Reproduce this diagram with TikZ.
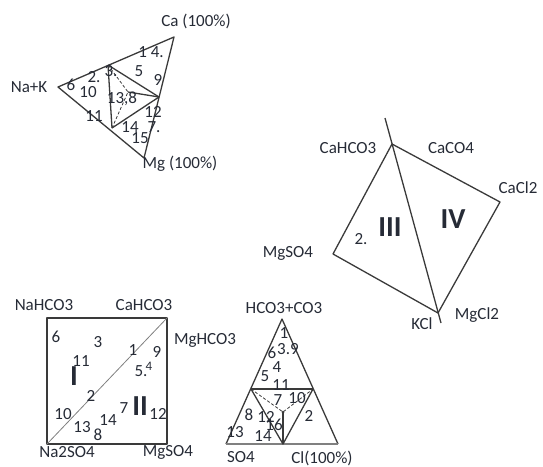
\documentclass[tikz,border=0pt]{standalone}
\usepackage{fontspec}
\setmainfont{Carlito}
\usetikzlibrary{positioning}
\definecolor{ink}{HTML}{262B36}
\definecolor{rule}{HTML}{3A3A3A}

\begin{document}
\begin{tikzpicture}[x=1pt, y=-1pt,
  every node/.style={font=\fontsize{17}{17}\selectfont, text=ink, inner sep=0pt},
  num/.style={font=\fontsize{17}{17}\selectfont},
  small/.style={font=\fontsize{13}{13}\selectfont},
  region/.style={font=\fontsize{29}{29}\selectfont\bfseries},
  edge/.style={draw=rule, line width=1.3pt, line join=round},
  thin/.style={draw=rule, line width=0.8pt, densely dashed},
  grey/.style={draw=gray, line width=1.1pt},
]
\useasboundingbox (0,0) rectangle (543,466);

% cation triangle
\coordinate (NaK) at (58,87);
\coordinate (Ca) at (174,37);
\coordinate (Mg) at (144,158);
\coordinate (tA) at (108,65);
\coordinate (tB) at (159,97);
\coordinate (tC) at (112,128);
\coordinate (tD) at (128,92);
\draw[edge] (NaK) -- (Ca) -- (Mg) -- cycle;
\draw[edge] (tA) -- (tB);
\draw[edge] (tA) -- (tC);
\draw[edge] (tC) -- (tB);
\draw[edge] (tD) -- (tB);
\draw[thin] (tA) -- (tD) -- (tC);

\node (lblCa) at (196,21) {Ca (100\%)};
\node (lblNaK) at (29,87) {Na+K};
\node (lblMg) at (180,164) {Mg (100\%)};
\node[num] (c14) at (151,52) {1 4.};
\node[num] (c5) at (139,71) {5};
\node[num] (c9) at (158,80) {9};
\node[num] (c2) at (94,77) {2.};
\node[num] (c3) at (111,71) {3.};
\node[num] (c6) at (71,85) {6};
\node[num] (c10) at (88,92) {10};
\node[num] (c138) at (122,99) {13,8};
\node[num] (c11) at (94,116) {11};
\node[num] (c12) at (153,112) {12};
\node[num] (c14b) at (130,127) {14};
\node[num] (c7) at (154,127) {7.};
\node[num] (c15) at (140,138) {15};

% salt diamond
\coordinate (dH) at (392,144);
\coordinate (dC) at (500,202);
\coordinate (dK) at (438,313);
\coordinate (dS) at (333,254);
\coordinate (dTop) at (385,118);
\coordinate (dBot) at (441,323);
\draw[edge] (dH) -- (dC) -- (dK) -- (dS) -- cycle;
\draw[edge] (dTop) -- (dBot);

\node (lblCaHCO) at (348,148) {CaHCO3};
\node (lblCaCO) at (451,148) {CaCO4};
\node (lblCaCl) at (518,188) {CaCl2};
\node (lblMgSO) at (288,253) {MgSO4};
\node (lblMgCl) at (477,315) {MgCl2};
\node (lblKCl) at (422,324) {KCl};
\node[region] (rIII) at (390,227) {III};
\node[region] (rIV) at (453,219) {IV};
\node[num] (d2) at (361,239) {2.};

% square
\coordinate (sTL) at (47,318);
\coordinate (sTR) at (167,318);
\coordinate (sBR) at (167,444);
\coordinate (sBL) at (47,444);
\draw[edge] (sTL) -- (sTR) -- (sBR) -- (sBL) -- cycle;
\draw[grey, line width=0.8pt] (sBL) -- (sTR);

\node (lblNaHCO) at (44,305) {NaHCO3};
\node (lblCaHCOs) at (144,305) {CaHCO3};
\node (lblMgHCO) at (205,340) {MgHCO3};
\node (lblNaSO) at (67,452) {Na2SO4};
\node (lblMgSOs) at (168,452) {MgSO4};
\node[region] (rI) at (74,376) {I};
\node[region] (rII) at (140,406) {II};
\node[num] (s6) at (56,337) {6};
\node[num] (s3) at (98,342) {3};
\node[num] (s11) at (81,361) {11};
\node[num] (s1) at (133,350) {1};
\node[num] (s9) at (157,352) {9};
\node[num] (s5) at (141,371) {5.};
\node[small] (s4) at (149,366) {4};
\node[num] (s2) at (91,396) {2};
\node[num] (s10) at (63,414) {10};
\node[num] (s7) at (124,408) {7};
\node[num] (s12) at (158,414) {12};
\node[num] (s14) at (108,420) {14};
\node[num] (s13) at (82,427) {13};
\node[num] (s8) at (98,435) {8};

% anion triangle
\coordinate (aT) at (282,319);
\coordinate (aL) at (226,444);
\coordinate (aR) at (338,444);
\coordinate (aML) at (251,389);
\coordinate (aMR) at (313,389);
\coordinate (aO) at (283,412);
\coordinate (aBM) at (283,444);
\draw[edge] (aL) -- (aT) -- (aR);
\draw[grey, line width=1.8pt] (aL) -- (aR);
\draw[edge] (aML) -- (aMR);
\draw[edge] (aML) -- (aBM) -- (aMR);
\draw[edge] (aO) -- (aBM);
\draw[thin] (aML) -- (aO) -- (aMR);
\fill[rule] (aO) circle (1.5pt);

\node (lblHCO) at (284,308) {HCO3+CO3};
\node (lblSO) at (241,457) {SO4};
\node (lblCl) at (322,458) {Cl(100\%)};
\node[num] (a1) at (284,333) {1};
\node[num] (a39) at (288,349) {3.9};
\node[num] (a6) at (272,353) {6};
\node[num] (a4) at (277,367) {4};
\node[num] (a5) at (265,376) {5};
\node[num] (a11) at (281,385) {11};
\node[num] (a7) at (278,400) {7};
\node[num] (a10) at (297,398) {10};
\node[num] (a2) at (309,416) {2};
\node[num] (a8) at (249,415) {8};
\node[num] (a12) at (266,417) {12};
\node[num] (a16) at (274,425) {16};
\node[num] (a13) at (235,432) {13};
\node[num] (a14) at (263,436) {14};
\end{tikzpicture}
\end{document}
